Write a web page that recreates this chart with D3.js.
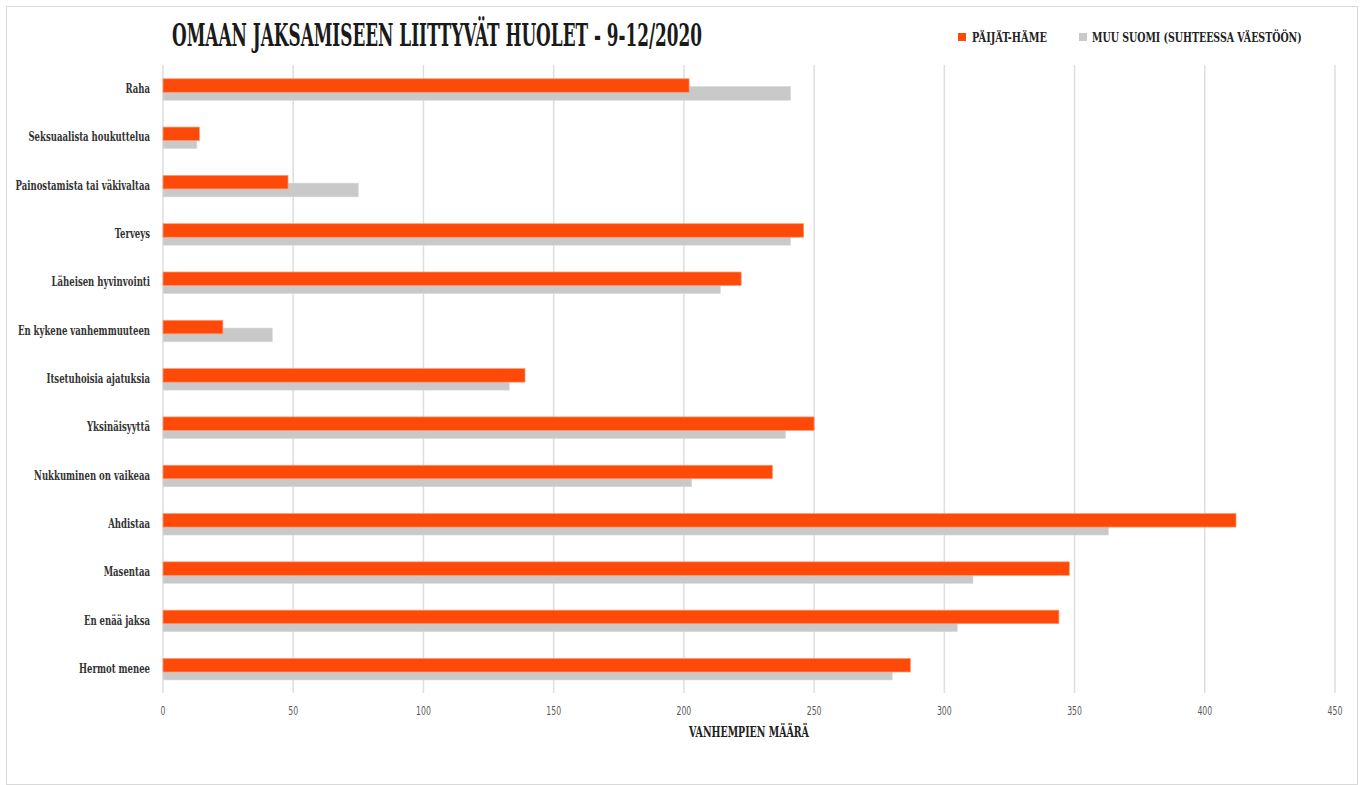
<!DOCTYPE html>
<html>
<head>
<meta charset="utf-8">
<script src="https://cdn.jsdelivr.net/npm/d3@7"></script>
<style>
  body { margin: 0; background: #fff; }
  svg { display: block; }
</style>
</head>
<body>
<svg id="chart"></svg>
<script>
// ===============================
// Data
// ===============================
const categories = [
    "Raha",
    "Seksuaalista houkuttelua",
    "Painostamista tai väkivaltaa",
    "Terveys",
    "Läheisen hyvinvointi",
    "En kykene vanhemmuuteen",
    "Itsetuhoisia ajatuksia",
    "Yksinäisyyttä",
    "Nukkuminen on vaikeaa",
    "Ahdistaa",
    "Masentaa",
    "En enää jaksa",
    "Hermot menee"
];
const paijatHame = [202, 14, 48, 246, 222, 23, 139, 250, 234, 412, 348, 344, 287];
const muuSuomi   = [241, 13, 75, 241, 214, 42, 133, 239, 203, 363, 311, 305, 280];
const xTicks = [0, 50, 100, 150, 200, 250, 300, 350, 400, 450];
const seriesNames = ["PÄIJÄT-HÄME", "MUU SUOMI (SUHTEESSA VÄESTÖÖN)"];

const title = "OMAAN JAKSAMISEEN LIITTYVÄT HUOLET - 9-12/2020";
const xTitle = "VANHEMPIEN MÄÄRÄ";

// ===============================
// Setup
// ===============================
const width = 1365,
      height = 785,
      margin = { top: 65, right: 30, bottom: 92, left: 163 };

const orange = "#fe4a08",
      grey = "#c9c9c9",
      slab = "'DejaVu Serif Condensed', 'DejaVu Serif', serif";

const svg = d3.select("#chart")
    .attr("width", width)
    .attr("height", height);

// outer frame
svg.append("rect")
    .attr("x", 6.5).attr("y", 6.5)
    .attr("width", 1351).attr("height", 778)
    .attr("fill", "#fff")
    .attr("stroke", "#d9d9d9");

// Scales
const x = d3.scaleLinear()
    .domain([0, 450])
    .range([margin.left, 1335]);

const y = d3.scaleBand()
    .domain(categories)
    .range([margin.top, height - margin.bottom]);

const bw = y.bandwidth();

// place a text at (px, py) and squeeze it horizontally,
// either by a factor k or to a fixed width w
function squeezeText(g, str, px, py, opts) {
    const t = g.append("text")
        .attr("x", 0).attr("y", 0)
        .attr("text-anchor", opts.anchor || "start")
        .attr("font-family", opts.family || slab)
        .attr("font-weight", opts.weight || "bold")
        .attr("font-size", opts.size)
        .attr("fill", opts.fill || "#222")
        .text(str);
    const len = t.node().getComputedTextLength();
    const k = opts.w ? opts.w / len : opts.k;
    t.attr("transform", `translate(${px},${py}) scale(${k},1)`);
    return t;
}

// Grid lines
svg.append("g")
    .selectAll("line")
    .data(xTicks)
    .enter()
    .append("line")
    .attr("x1", d => x(d)).attr("x2", d => x(d))
    .attr("y1", margin.top).attr("y2", height - margin.bottom)
    .attr("stroke", "#dedede")
    .attr("stroke-width", 1.5);

// Bars - grey first so the orange sits on top
const rows = categories.map((c, i) => ({ cat: c, ph: paijatHame[i], ms: muuSuomi[i] }));

svg.append("g")
    .selectAll("rect")
    .data(rows)
    .enter()
    .append("rect")
    .attr("x", x(0))
    .attr("y", d => y(d.cat) + bw * 0.445)
    .attr("width", d => x(d.ms) - x(0))
    .attr("height", bw * 0.285)
    .attr("fill", grey)
    .attr("stroke", "#dadada")
    .attr("stroke-width", 0.6);

svg.append("g")
    .selectAll("rect")
    .data(rows)
    .enter()
    .append("rect")
    .attr("x", x(0))
    .attr("y", d => y(d.cat) + bw * 0.285)
    .attr("width", d => x(d.ph) - x(0))
    .attr("height", bw * 0.28)
    .attr("fill", orange)
    .attr("stroke", "#ff9a75")
    .attr("stroke-width", 0.7);

// Category labels
const labels = svg.append("g");
categories.forEach(c => {
    squeezeText(labels, c, 150, y(c) + bw / 2 + 4,
        { anchor: "end", size: 12, k: 0.79, fill: "#333" });
});

// X axis tick labels
const ticks = svg.append("g");
xTicks.forEach(v => {
    squeezeText(ticks, String(v), x(v), 715, {
        anchor: "middle", size: 12, k: 0.72, weight: "normal",
        family: "'DejaVu Sans Condensed', 'DejaVu Sans', sans-serif", fill: "#595959"
    });
});

// Axis title
squeezeText(svg, xTitle, (x(0) + x(450)) / 2, 737,
    { anchor: "middle", size: 14, w: 120, fill: "#222" });

// Title
squeezeText(svg, title, 172, 46, { size: 31, w: 530, fill: "#1a1a1a" });

// Legend
const legend = [
    { name: seriesNames[0], color: orange, sx: 958, tx: 972, w: 75 },
    { name: seriesNames[1], color: grey, sx: 1079, tx: 1092, w: 210 }
];

svg.append("g")
    .selectAll("rect")
    .data(legend)
    .enter()
    .append("rect")
    .attr("x", d => d.sx)
    .attr("y", 33)
    .attr("width", 8)
    .attr("height", 8)
    .attr("fill", d => d.color);

const legendText = svg.append("g");
legend.forEach(d => {
    squeezeText(legendText, d.name, d.tx, 42, { size: 13, w: d.w, fill: "#222" });
});
</script>
</body>
</html>
